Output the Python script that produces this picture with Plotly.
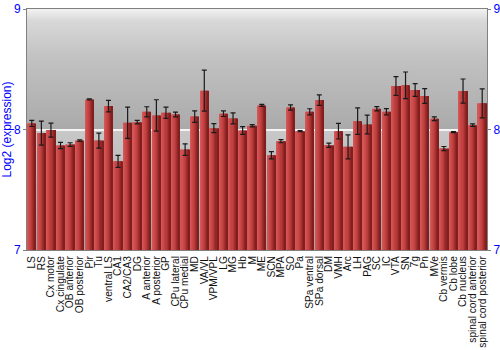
import plotly.graph_objects as go
import zlib, struct, base64

regions = ["LS", "RS", "Cx motor", "Cx cingulate", "OB anterior", "OB posterior", "Pir", "Tu",
           "ventral LS", "CA1", "CA2/CA3", "DG", "A anterior", "A posterior", "GP", "CPu lateral",
           "CPu medial", "MD", "VA/VL", "VPM/VPL", "LG", "MG", "Hb", "M", "ME", "SCN", "MPA", "SO",
           "Pa", "SPa ventral", "SPa dorsal", "DM", "VMH", "Arc", "LH", "PAG", "SC", "IC", "VTA",
           "SN", "7g", "Pn", "MVe", "Cb vermis", "Cb lobe", "Cb nucleus", "spinal cord anterior",
           "spinal cord posterior"]
expression = [8.05, 7.97, 7.995, 7.867, 7.875, 7.908, 8.25, 7.908,
              8.194, 7.736, 8.056, 8.061, 8.147, 8.117, 8.139, 8.125,
              7.833, 8.107, 8.322, 8.011, 8.131, 8.092, 7.992, 8.031, 8.2, 7.786, 7.903, 8.183,
              7.986, 8.147, 8.244, 7.869, 7.986, 7.856, 8.069, 8.042, 8.172, 8.147, 8.361,
              8.367, 8.328, 8.278, 8.089, 7.842, 7.978, 8.319, 8.036, 8.217]
error = [0.025, 0.10, 0.058, 0.026, 0.015, 0.007, 0.005, 0.062,
         0.048, 0.05, 0.13, 0.015, 0.042, 0.13, 0.047, 0.02,
         0.048, 0.048, 0.17, 0.037, 0.023, 0.046, 0.032, 0.01, 0.008, 0.03, 0.013, 0.022,
         0.004, 0.025, 0.044, 0.018, 0.065, 0.10, 0.11, 0.078, 0.018, 0.026, 0.078,
         0.11, 0.053, 0.061, 0.015, 0.017, 0.005, 0.10, 0.01, 0.12]
y_ticks = [7, 8, 9]

BLUE = "#0000ff"


def gradient_png(values):
    """1-pixel-wide grayscale PNG, one row per value (top to bottom)."""
    raw = b"".join(b"\x00" + bytes([v]) for v in values)
    def chunk(tag, data):
        c = struct.pack(">I", len(data)) + tag + data
        return c + struct.pack(">I", zlib.crc32(tag + data) & 0xffffffff)
    png = b"\x89PNG\r\n\x1a\n"
    png += chunk(b"IHDR", struct.pack(">IIBBBBB", 1, len(values), 8, 0, 0, 0, 0))
    png += chunk(b"IDAT", zlib.compress(raw))
    png += chunk(b"IEND", b"")
    return "data:image/png;base64," + base64.b64encode(png).decode()


# background shading profile (gray level by height, top -> bottom)
stops = [(0.0, 242), (0.05, 216), (0.2, 194), (0.35, 182), (0.5, 170), (0.5001, 200), (1.0, 165)]
H = 240
rows = []
for i in range(H):
    f = (i + 0.5) / H
    for j in range(len(stops) - 1):
        a, ca = stops[j]
        b, cb = stops[j + 1]
        if a <= f <= b:
            rows.append(int(round(ca + (cb - ca) * (f - a) / (b - a))))
            break
    else:
        rows.append(165)
bg_src = gradient_png(rows)

fig = go.Figure()

n_slices = 8
total_w = 0.88
left_c = (212, 86, 86)
mid_c = (192, 62, 62)
right_c = (130, 30, 30)
sw = total_w / n_slices
for k in range(n_slices):
    t = k / (n_slices - 1)
    if t < 0.5:
        u = t / 0.5
        c = tuple(int(left_c[i] + (mid_c[i] - left_c[i]) * u) for i in range(3))
    else:
        u = (t - 0.5) / 0.5
        c = tuple(int(mid_c[i] + (right_c[i] - mid_c[i]) * u) for i in range(3))
    fig.add_trace(go.Bar(
        x=regions, y=expression, width=sw * 1.02, offset=-total_w / 2 + k * sw,
        marker=dict(color="rgb(%d,%d,%d)" % c, line=dict(width=0)),
        showlegend=False, hoverinfo="skip"))

fig.add_trace(go.Scatter(
    x=regions, y=expression, mode="markers", marker=dict(size=0.1, color="rgba(0,0,0,0)"),
    error_y=dict(type="data", array=error, visible=True, color="#1a1a1a", thickness=1.2, width=2.5),
    showlegend=False, hoverinfo="skip"))

fig.add_trace(go.Scatter(x=[regions[0]], y=[8], yaxis="y2", mode="markers",
                         marker=dict(size=0.1, color="rgba(0,0,0,0)"), showlegend=False,
                         hoverinfo="skip"))

fig.update_layout(
    width=500, height=350,
    margin=dict(l=27, r=13, t=9, b=100),
    paper_bgcolor="white", plot_bgcolor="white",
    barmode="overlay",
    images=[dict(source=bg_src, xref="paper", yref="paper", x=0, y=1, sizex=1, sizey=1,
                 xanchor="left", yanchor="top", sizing="stretch", layer="below")],
    font=dict(family="Liberation Sans, Arial, sans-serif", size=12, color="#000"),
    xaxis=dict(type="category", categoryorder="array", categoryarray=regions,
               tickmode="array", tickvals=regions, ticktext=regions,
               tickangle=-90, tickfont=dict(size=10.2, color="#111"), ticks="",
               ticklabelstandoff=1,
               showline=True, linecolor="#808080", mirror=True, showgrid=False,
               automargin=False, range=[-0.5, len(regions) - 0.5]),
    yaxis=dict(range=[7, 9], tickvals=y_ticks, ticktext=[str(v) for v in y_ticks],
               tickfont=dict(size=12, color=BLUE), ticks="outside", ticklen=3, tickcolor="#808080",
               showline=True, linecolor="#808080", linewidth=1, automargin=False,
               showgrid=True, gridcolor="#f4f4f4", gridwidth=2, zeroline=False,
               title=dict(text="Log2 (expression)", font=dict(size=12, color=BLUE), standoff=2)),
    yaxis2=dict(range=[7, 9], tickvals=y_ticks, overlaying="y", side="right", matches="y",
                tickfont=dict(size=12, color=BLUE), ticks="outside", ticklen=3, tickcolor="#808080",
                showline=True, linecolor="#808080", showgrid=False, zeroline=False,
                automargin=False),
)

fig.write_html("out.html")
